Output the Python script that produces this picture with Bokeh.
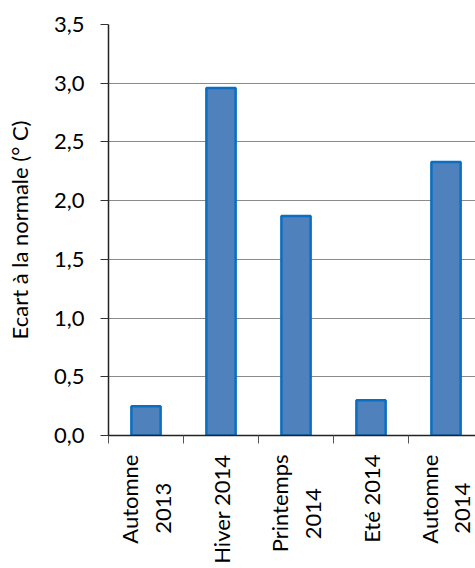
import math
from bokeh.plotting import figure
from bokeh.models import FixedTicker, Range1d, ColumnDataSource
from bokeh.embed import file_html
from bokeh.resources import INLINE

NB = "\u00a0"
categories = ["Automne\n2013" + NB * 5, "Hiver 2014", "Printemps\n2014" + NB * 6,
              "Eté 2014", "Automne\n2014" + NB * 5]
values = [0.25, 2.96, 1.87, 0.30, 2.33]
y_ticks = [0.0, 0.5, 1.0, 1.5, 2.0, 2.5, 3.0, 3.5]
y_tick_labels = ["0,0", "0,5", "1,0", "1,5", "2,0", "2,5", "3,0", "3,5"]
y_title = "Ecart à la normale (° C)"

FONT = "Lato"
FS = "22px"

xc = [i + 0.5 for i in range(len(categories))]
bounds = [float(i) for i in range(len(categories) + 1)]
src = ColumnDataSource(dict(x=xc, top=values))

p = figure(width=475, height=568, output_backend="svg", toolbar_location=None,
           x_range=Range1d(0, 4.893), y_range=Range1d(0, 3.5),
           min_border_left=108, min_border_right=0, min_border_top=24,
           min_border_bottom=133)
p.outline_line_color = None
p.background_fill_color = "white"
p.border_fill_color = "white"

p.vbar(x="x", top="top", bottom=0, width=0.39, source=src,
       fill_color="#4F81BD", line_color="#0A6FC2", line_width=2.5)

# y axis
ya = p.yaxis[0]
ya.ticker = FixedTicker(ticks=y_ticks, minor_ticks=[])
ya.major_label_overrides = {t: l for t, l in zip(y_ticks, y_tick_labels)}
ya.axis_label = y_title
ya.axis_label_text_font = FONT
ya.axis_label_text_font_size = "22px"
ya.axis_label_text_font_style = "normal"
ya.axis_label_text_color = "black"
ya.axis_label_standoff = 18
ya.major_label_text_font = FONT
ya.major_label_text_font_size = FS
ya.major_label_text_color = "black"
ya.major_label_standoff = 16
ya.major_tick_out = 8
ya.major_tick_in = 0
ya.major_tick_line_color = "#333333"
ya.axis_line_color = "#222222"
ya.axis_line_width = 1.5

# x axis
xa = p.xaxis[0]
xa.ticker = FixedTicker(ticks=xc, minor_ticks=bounds)
xa.major_label_overrides = {t: l for t, l in zip(xc, categories)}
xa.major_label_orientation = math.pi / 2
xa.major_label_text_font = FONT
xa.major_label_text_font_size = FS
xa.major_label_text_color = "black"
xa.major_label_standoff = 11
xa.major_tick_line_color = None
xa.major_tick_out = 0
xa.major_tick_in = 0
xa.minor_tick_out = 8
xa.minor_tick_in = 0
xa.minor_tick_line_color = "#555555"
xa.axis_line_color = "#222222"
xa.axis_line_width = 1.5

p.xgrid.visible = False
p.ygrid[0].ticker = FixedTicker(ticks=y_ticks)
p.ygrid.grid_line_color = "#8a8a8a"
p.ygrid.grid_line_width = 1.2

open("out.html", "w").write(file_html(p, INLINE))
